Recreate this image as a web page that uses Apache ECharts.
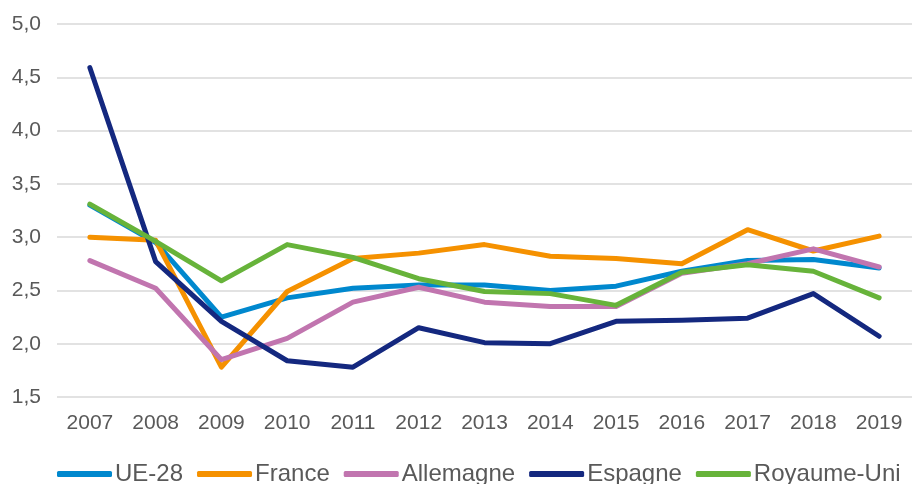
<!DOCTYPE html>
<html>
<head>
<meta charset="utf-8">
<script src="https://cdn.jsdelivr.net/npm/echarts@6/dist/echarts.min.js"></script>
<style>
html, body { margin: 0; padding: 0; background: #fff; }
#main { width: 912px; height: 484px; }
</style>
</head>
<body>
<div id="main"></div>
<script>
// données
var annees = ['2007', '2008', '2009', '2010', '2011', '2012', '2013', '2014', '2015', '2016', '2017', '2018', '2019'];
var ue28 = [3.30, 2.95, 2.25, 2.43, 2.52, 2.55, 2.55, 2.50, 2.54, 2.68, 2.78, 2.79, 2.71];
var france = [3.00, 2.97, 1.78, 2.49, 2.80, 2.85, 2.93, 2.82, 2.80, 2.75, 3.07, 2.87, 3.01];
var allemagne = [2.78, 2.52, 1.85, 2.05, 2.39, 2.53, 2.39, 2.35, 2.35, 2.66, 2.75, 2.89, 2.72];
var espagne = [4.59, 2.77, 2.21, 1.84, 1.78, 2.15, 2.01, 2.00, 2.21, 2.22, 2.24, 2.47, 2.07];
var royaumeUni = [3.31, 2.96, 2.59, 2.93, 2.81, 2.61, 2.49, 2.47, 2.36, 2.67, 2.74, 2.68, 2.43];

var police = 'Liberation Sans, Arial, sans-serif';
var chart = echarts.init(document.getElementById('main'));

function serie(nom, data, couleur) {
    return {
        name: nom,
        type: 'line',
        data: data,
        showSymbol: false,
        symbol: 'none',
        color: couleur,
        lineStyle: { width: 5, color: couleur, cap: 'round', join: 'round' }
    };
}

var option = {
    animation: false,
    grid: { left: 57, right: -12, top: 24, bottom: 87 },
    legend: {
        left: 52,
        top: 457,
        icon: 'roundRect',
        itemWidth: 55,
        itemHeight: 6,
        itemGap: 14,
        textStyle: { fontSize: 24, color: '#595959', fontFamily: police, padding: [0, 0, 0, -2] },
        data: ['UE-28', 'France', 'Allemagne', 'Espagne', 'Royaume-Uni']
    },
    xAxis: {
        type: 'category',
        data: annees,
        boundaryGap: true,
        axisLine: { show: false },
        axisTick: { show: false },
        axisLabel: { fontSize: 21, color: '#595959', fontFamily: police, margin: 16, interval: 0 }
    },
    yAxis: {
        type: 'value',
        min: 1.5,
        max: 5,
        interval: 0.5,
        axisLine: { show: false },
        axisTick: { show: false },
        splitLine: { lineStyle: { color: '#d9d9d9', width: 1.5 } },
        axisLabel: {
            fontSize: 21,
            color: '#595959',
            fontFamily: police,
            margin: 16,
            formatter: function (v) { return v.toFixed(1).replace('.', ','); }
        }
    },
    series: [
        serie('UE-28', ue28, '#0088ce'),
        serie('France', france, '#f59100'),
        serie('Allemagne', allemagne, '#c175af'),
        serie('Espagne', espagne, '#14287f'),
        serie('Royaume-Uni', royaumeUni, '#67b33a')
    ]
};

chart.setOption(option);
</script>
</body>
</html>
